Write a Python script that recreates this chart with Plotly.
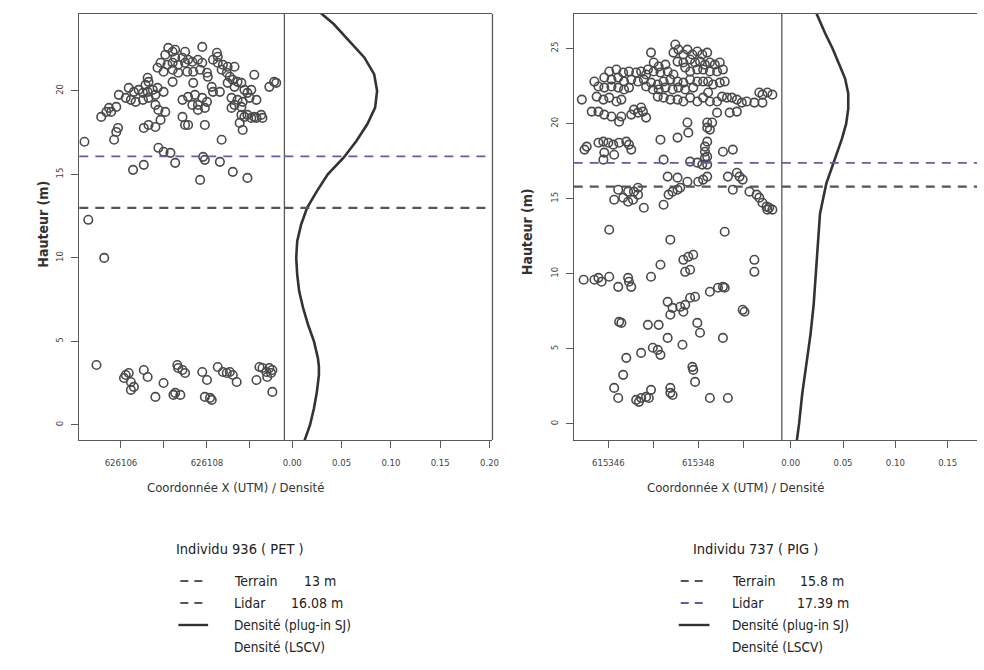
import plotly.graph_objects as go

W, H = 984, 670

# ---------------- data : individu 936 (PET) ----------------
x_936 = [626107.89, 626107.10, 626107.20, 626107.26, 626107.49, 626108.23, 626108.25, 626107.03, 626107.26, 626107.43,
         626107.56, 626106.92, 626107.08, 626107.20, 626107.33, 626107.49, 626107.66, 626107.79, 626107.89, 626108.14,
         626108.25, 626108.37, 626108.48, 626108.64, 626106.85, 626106.99, 626107.20, 626107.33, 626107.54, 626107.68,
         626107.84, 626108.00, 626108.02, 626108.34, 626108.46, 626108.53, 626108.60, 626108.71, 626108.80, 626109.10,
         626106.62, 626106.64, 626106.57, 626107.20, 626107.68, 626106.99, 626108.11, 626108.14, 626108.30, 626109.56,
         626109.45, 626109.61, 626108.48, 626108.64, 626108.87, 626109.03, 626108.94, 626106.18, 626106.30, 626106.41,
         626106.51, 626106.62, 626106.74, 626106.85, 626105.95, 626106.11, 626106.23, 626106.34, 626106.51, 626106.64,
         626106.80, 626107.43, 626107.56, 626107.72, 626107.89, 626108.00, 626107.79, 626107.66, 626107.95, 626107.79,
         626108.57, 626108.71, 626108.83, 626108.99, 626109.15, 626108.64, 626108.57, 626108.80, 626105.72, 626105.89,
         626105.66, 626105.54, 626106.80, 626106.87, 626107.03, 626107.43, 626108.80, 626108.94, 626109.10, 626109.26,
         626105.77, 626105.93, 626105.89, 626106.53, 626106.64, 626106.80, 626106.92, 626107.49, 626107.56, 626107.95,
         626108.76, 626108.87, 626109.03, 626109.15, 626109.29, 626108.83, 626105.15, 626105.84, 626108.34, 626106.87,
         626106.99, 626107.15, 626107.91, 626107.95, 626108.30, 626106.28, 626106.53, 626107.26, 626108.60, 626108.94,
         626107.84, 626105.24, 626105.61,
         626105.43, 626106.11, 626106.18, 626106.07, 626106.23, 626106.30, 626106.23, 626106.53, 626106.62, 626106.80,
         626106.99, 626107.31, 626107.33, 626107.43, 626107.49, 626107.26, 626107.38, 626107.22, 626107.89, 626108.00,
         626107.95, 626108.07, 626108.11, 626108.25, 626108.37, 626108.46, 626108.53, 626108.60, 626108.69, 626109.15,
         626109.22, 626109.29, 626109.38, 626109.45, 626109.49, 626109.40, 626109.52, 626109.52]
y_936 = [22.63, 22.57, 22.34, 22.46, 22.34, 22.28, 22.04, 22.16, 21.98, 21.98,
         21.86, 21.68, 21.56, 21.68, 21.56, 21.68, 21.74, 21.86, 21.68, 21.86,
         21.68, 21.56, 21.44, 21.44, 21.38, 21.14, 21.26, 21.08, 21.14, 21.14,
         21.26, 21.08, 20.84, 21.26, 21.08, 20.84, 20.66, 20.54, 20.48, 20.96,
         20.78, 20.54, 20.36, 20.54, 20.48, 19.94, 20.24, 19.94, 19.94, 20.54,
         20.24, 20.48, 20.48, 20.24, 20.06, 20.06, 19.88, 20.18, 19.94, 20.06,
         19.88, 19.94, 20.06, 20.18, 19.76, 19.58, 19.46, 19.34, 19.46, 19.58,
         19.76, 19.46, 19.64, 19.76, 19.58, 19.34, 19.16, 19.16, 18.98, 18.86,
         19.58, 19.46, 19.34, 19.58, 19.46, 19.16, 18.98, 19.04, 18.98, 19.04,
         18.74, 18.44, 19.16, 18.86, 18.74, 18.44, 18.56, 18.56, 18.44, 18.56,
         18.74, 17.78, 17.54, 17.78, 17.96, 17.84, 18.26, 17.96, 17.96, 17.96,
         18.08, 18.44, 18.38, 18.38, 18.38, 17.66, 16.95, 17.07, 17.07, 16.59,
         16.35, 16.29, 16.05, 15.87, 15.75, 15.27, 15.57, 15.69, 15.15, 14.79,
         14.67, 12.28, 10.00,
         3.59, 2.99, 3.11, 2.81, 2.57, 2.28, 2.10, 3.29, 2.87, 1.68,
         2.51, 3.59, 3.41, 3.29, 3.11, 1.92, 1.80, 1.80, 3.17, 2.69,
         1.68, 1.62, 1.50, 3.47, 3.17, 3.11, 3.17, 2.99, 2.57, 2.69,
         3.47, 3.41, 3.17, 3.41, 3.11, 2.87, 3.29, 1.98]

dens_h_936 = [-1.0, 0, 1, 2, 3, 3.5, 4, 5, 6, 7, 8, 9, 10, 11, 12, 13, 14, 15, 16, 17, 18, 19, 20, 21, 22, 23, 24, 24.6, 25.0]
dens_v_936 = [0.012, 0.018, 0.022, 0.025, 0.027, 0.027, 0.026, 0.022, 0.016, 0.011, 0.007, 0.005, 0.004, 0.005, 0.009,
              0.015, 0.025, 0.036, 0.052, 0.065, 0.076, 0.084, 0.086, 0.083, 0.073, 0.058, 0.042, 0.030, 0.022]

terrain_936 = 13.0
lidar_936 = 16.08

# ---------------- data : individu 737 (PIG) ----------------
x_737 = [615346.95, 615347.49, 615347.56, 615347.67, 615347.45, 615347.76, 615347.87, 615347.98, 615348.09, 615348.20,
         615347.54, 615347.67, 615347.82, 615347.93, 615348.04, 615348.15, 615348.26, 615348.37, 615348.48, 615347.01,
         615347.12, 615347.27, 615346.88, 615347.01, 615347.16, 615347.32, 615347.45, 615347.71, 615347.82, 615347.98,
         615348.11, 615348.26, 615348.42, 615348.55, 615346.02, 615346.18, 615346.33, 615346.46, 615346.62, 615346.73,
         615346.84, 615345.91, 615346.07, 615346.22, 615346.35, 615346.51, 615346.66, 615346.79, 615346.95, 615347.10,
         615347.23, 615347.38, 615347.54, 615347.67, 615347.82, 615347.98, 615348.11, 615345.69, 615345.78, 615345.91,
         615346.07, 615346.22, 615346.35, 615346.46, 615346.84, 615346.99, 615347.12, 615347.27, 615347.43, 615347.56,
         615347.71, 615347.89, 615348.22, 615348.33, 615348.48, 615348.59, 615345.41, 615345.74, 615345.89, 615346.02,
         615346.18, 615346.29, 615347.10, 615347.23, 615347.38, 615347.54, 615347.67, 615347.82, 615347.98, 615348.11,
         615348.22, 615348.26, 615348.42, 615348.53, 615348.64, 615348.75, 615348.86, 615348.97, 615349.08, 615349.36,
         615349.43, 615349.54, 615349.65, 615349.25, 615349.43, 615346.57, 615346.73, 615346.77, 615346.66, 615345.63,
         615345.78, 615345.91, 615346.07, 615346.29, 615348.42, 615348.70, 615348.86, 615346.24, 615346.84, 615346.51,
         615347.76, 615347.78, 615348.20, 615348.31, 615348.26, 615348.20, 615347.16, 615347.54, 615348.20, 615348.15,
         615345.52, 615345.78, 615345.89, 615346.00, 615346.11, 615346.24, 615346.40, 615346.46, 615346.51, 615345.47,
         615345.91, 615346.13, 615345.89, 615348.15, 615348.20, 615348.55, 615348.77, 615347.23, 615347.82, 615347.98,
         615348.09, 615348.15, 615348.20, 615348.86, 615348.92, 615348.99, 615348.66, 615347.32, 615347.54, 615347.76,
         615348.00, 615348.11, 615348.20, 615346.22, 615346.44, 615346.57, 615346.66, 615346.13, 615346.33, 615346.44,
         615346.55, 615346.66, 615346.79, 615347.23, 615347.34, 615347.43, 615347.54, 615347.60, 615348.77, 615349.14,
         615349.30, 615349.36, 615349.43, 615349.52, 615349.58, 615349.65, 615349.54, 615346.02, 615347.38, 615348.59,
         615345.45, 615345.69, 615345.78, 615345.85, 615346.02, 615346.22, 615346.44, 615346.46, 615346.51, 615346.95,
         615347.16, 615347.67, 615347.78, 615347.89, 615347.71, 615347.82, 615349.25, 615349.25, 615348.26, 615348.44,
         615348.55, 615348.59, 615347.32, 615347.43, 615347.60, 615347.71, 615347.82, 615347.93, 615348.99, 615349.03,
         615347.38, 615347.67, 615346.24, 615346.29, 615346.88, 615347.12, 615347.98, 615348.04, 615347.32, 615347.65,
         615348.55, 615346.40, 615346.73, 615346.99, 615347.10, 615347.16, 615347.87, 615347.89, 615347.93, 615346.33,
         615346.13, 615346.22, 615346.62, 615346.73, 615346.84, 615346.95, 615346.90, 615346.68, 615347.38, 615347.38,
         615347.43, 615348.26, 615348.66]
y_737 = [24.73, 25.27, 24.93, 24.60, 24.73, 24.93, 24.60, 24.80, 24.60, 24.73,
         24.13, 24.07, 24.27, 24.07, 24.13, 23.93, 24.07, 23.93, 24.07, 24.07,
         23.80, 23.93, 23.60, 23.47, 23.40, 23.47, 23.27, 23.73, 23.47, 23.60,
         23.60, 23.47, 23.47, 23.60, 23.47, 23.60, 23.40, 23.47, 23.40, 23.47,
         23.27, 23.07, 22.93, 23.07, 22.80, 22.93, 22.80, 22.93, 22.73, 22.60,
         22.80, 22.93, 22.80, 22.73, 22.93, 22.80, 22.80, 22.80, 22.47, 22.40,
         22.47, 22.40, 22.27, 22.40, 22.47, 22.27, 22.27, 22.40, 22.27, 22.40,
         22.27, 22.40, 22.80, 22.60, 22.73, 22.80, 21.60, 21.80, 21.60, 21.73,
         21.47, 21.60, 21.80, 21.73, 21.60, 21.60, 21.47, 21.73, 21.47, 21.73,
         22.07, 21.47, 21.47, 21.80, 21.73, 21.73, 21.60, 21.40, 21.47, 22.07,
         21.93, 22.07, 21.93, 21.40, 21.40, 20.93, 21.07, 20.80, 20.73, 20.80,
         20.80, 20.60, 20.47, 20.47, 20.73, 20.73, 20.80, 20.13, 20.40, 20.60,
         20.07, 19.40, 20.07, 20.07, 19.60, 19.73, 18.93, 19.07, 18.80, 18.47,
         18.47, 18.73, 18.80, 18.73, 18.60, 18.73, 18.80, 18.60, 18.27, 18.27,
         18.07, 17.93, 17.60, 18.13, 17.80, 18.13, 18.27, 17.60, 17.47, 17.40,
         17.27, 17.73, 17.27, 16.73, 16.47, 16.27, 16.47, 16.47, 16.40, 16.13,
         16.13, 16.27, 16.47, 15.60, 15.47, 15.47, 15.73, 14.93, 15.07, 14.80,
         14.93, 15.27, 14.40, 14.60, 15.27, 15.47, 15.60, 15.73, 15.60, 15.47,
         15.27, 15.07, 14.73, 14.47, 14.40, 14.27, 14.27, 12.93, 12.27, 12.80,
         9.60, 9.60, 9.73, 9.47, 9.80, 9.13, 9.73, 9.47, 9.13, 9.80,
         10.60, 10.93, 11.13, 11.27, 10.13, 10.27, 10.93, 10.13, 8.80, 9.07,
         9.13, 9.07, 8.13, 7.73, 7.80, 7.93, 8.40, 8.47, 7.60, 7.47,
         7.27, 7.47, 6.80, 6.73, 6.60, 6.60, 6.73, 6.07, 5.73, 5.27,
         5.73, 4.40, 4.73, 5.07, 4.93, 4.60, 3.80, 3.60, 2.80, 3.27,
         2.40, 1.73, 1.60, 1.73, 1.80, 2.27, 1.73, 1.47, 2.40, 2.07,
         1.93, 1.73, 1.73]

dens_h_737 = [-1.3, 0, 2, 4, 6, 8, 10, 12, 14, 16, 17, 18, 19, 20, 21, 22, 23, 24, 25, 26, 27.3, 27.6]
dens_v_737 = [0.0055, 0.008, 0.011, 0.015, 0.019, 0.022, 0.024, 0.026, 0.028, 0.034, 0.039, 0.044, 0.049, 0.053,
              0.055, 0.055, 0.052, 0.046, 0.040, 0.033, 0.025, 0.023]

terrain_737 = 15.8
lidar_737 = 17.39

# tick labels
xt_936 = [626106, 626107, 626108, 626109]
xl_936 = ["626106", "", "626108", ""]
xt_737 = [615346, 615347, 615348, 615349]
xl_737 = ["615346", "", "615348", ""]
dt_936 = [0.00, 0.05, 0.10, 0.15, 0.20]
dt_737 = [0.00, 0.05, 0.10, 0.15]

# ---------------- styling ----------------
FONT = "Liberation Sans Narrow, Arial Narrow, DejaVu Sans Condensed, Liberation Sans, Arial, sans-serif"
AX = "#5a5a5a"
PT = "#4a4a4a"
BLUE = "#5b5fae"
YDOM = [1 - 440 / H, 1 - 14 / H]
LS = [78 / W, 285 / W]
LD = [285 / W, 495 / W]
RS = [577 / W, 787 / W]
RD = [787 / W, 1.0]

fig = go.Figure()

def pts(x, y, xa, ya):
    fig.add_trace(go.Scatter(x=x, y=y, mode="markers", xaxis=xa, yaxis=ya,
                             marker=dict(symbol="circle-open", size=8.5, color=PT, line=dict(width=1.6, color=PT)),
                             hoverinfo="skip", showlegend=False))

def dens(h, v, xa, ya):
    fig.add_trace(go.Scatter(x=v, y=h, mode="lines", xaxis=xa, yaxis=ya,
                             line=dict(color="#333333", width=2.6), hoverinfo="skip", showlegend=False))

pts(x_936, y_936, "x", "y")
dens(dens_h_936, dens_v_936, "x2", "y")
pts(x_737, y_737, "x3", "y3")
dens(dens_h_737, dens_v_737, "x4", "y3")

def xax(dom, rng, tv, tt, anchor):
    return dict(domain=dom, range=rng, anchor=anchor, tickvals=tv, ticktext=tt, showgrid=False, zeroline=False,
                showline=True, mirror=True, linecolor=AX, linewidth=1.3, ticks="outside", ticklen=7,
                tickcolor=AX, tickwidth=1.2, ticklabelstandoff=6,
                tickfont=dict(family=FONT, size=9.5, color="#444"))

def yax(rng, tv, anchor):
    return dict(domain=YDOM, range=rng, anchor=anchor, tickvals=tv,
                showgrid=False, zeroline=False, showline=True, linecolor=AX, linewidth=1.3,
                ticks="outside", ticklen=7, tickcolor=AX, tickwidth=1.2, tickangle=-90, ticklabelstandoff=4,
                tickfont=dict(family=FONT, size=9.5, color="#444"))

fig.update_layout(
    width=W, height=H, margin=dict(l=0, r=0, t=0, b=0),
    paper_bgcolor="white", plot_bgcolor="white", showlegend=False,
    xaxis=xax(LS, [626105.03, 626109.8], xt_936, xl_936, "y"),
    xaxis2=xax(LD, [-0.008, 0.203], dt_936, [f"{v:.2f}" for v in dt_936], "y"),
    xaxis3=xax(RS, [615345.23, 615349.86], xt_737, xl_737, "y3"),
    xaxis4=xax(RD, [-0.0085, 0.178], dt_737, [f"{v:.2f}" for v in dt_737], "y3"),
    yaxis=yax([-0.9, 24.6], [0, 5, 10, 15, 20], "x"),
    yaxis3=yax([-1.07, 27.3], [0, 5, 10, 15, 20, 25], "x3"),
)

shapes = []
# vertical separators / borders
for xr, yr in [("x", "y"), ("x2", "y"), ("x3", "y3")]:
    shapes.append(dict(type="line", xref=f"{xr} domain", yref=f"{yr} domain", x0=1, x1=1, y0=0, y1=1,
                       line=dict(color=AX, width=1.3)))

def hline(xr, yr, val, color, width):
    shapes.append(dict(type="line", xref=f"{xr} domain", yref=yr, x0=0, x1=1, y0=val, y1=val,
                       line=dict(color=color, width=width, dash="9px,7px")))

for xr in ["x", "x2"]:
    hline(xr, "y", terrain_936, "#555555", 2.2)
    hline(xr, "y", lidar_936, BLUE, 1.8)
for xr in ["x3", "x4"]:
    hline(xr, "y3", terrain_737, "#555555", 2.2)
    hline(xr, "y3", lidar_737, BLUE, 1.8)

ann = []
def text(px, py, s, size, anchor="center", angle=0, color="#222", bold=False):
    ann.append(dict(x=px / W, y=1 - py / H, xref="paper", yref="paper", text=f"<b>{s}</b>" if bold else s,
                    showarrow=False, xanchor=anchor, yanchor="middle", textangle=angle,
                    font=dict(family=FONT, size=size, color=color)))

def seg(x0, x1, py, color, width, dash=None):
    ln = dict(color=color, width=width)
    if dash:
        ln["dash"] = dash
    shapes.append(dict(type="line", xref="paper", yref="paper", x0=x0 / W, x1=x1 / W,
                       y0=1 - py / H, y1=1 - py / H, line=ln))

# axis titles
text(41, 224, "Hauteur (m)", 14, angle=-90, color="#333", bold=True)
text(530, 232, "Hauteur (m)", 14, angle=-90, color="#333", bold=True)
text(236, 487, "Coordonnée X (UTM) / Densité", 13, color="#333")
text(740, 487, "Coordonnée X (UTM) / Densité", 13, color="#333")

# legend blocks
legs = [
    dict(cx=240, title="Individu 936 ( PET )", sx0=180, sx1=206, tx=232,
         rows=[("Terrain", "13 m", 303, "#555555"), ("Lidar", "16.08 m", 290, "#555555")]),
    dict(cx=760, title="Individu 737 ( PIG )", sx0=685, sx1=712, tx=735,
         rows=[("Terrain", "15.8 m", 803, "#555555"), ("Lidar", "17.39 m", 800, BLUE)]),
]
for L in legs:
    text(L["cx"], 549, L["title"], 14.5)
    for i, (lab, val, vx, col) in enumerate(L["rows"]):
        py = 581 + 22 * i
        seg(L["sx0"], L["sx1"], py, col, 2, dash="8px,6px")
        text(L["tx"], py, lab, 14, anchor="left")
        text(vx, py, val, 14, anchor="left")
    seg(L["sx0"] - 2, L["sx1"] + 2, 625, "#333333", 2.4)
    text(L["tx"], 625, "Densité (plug-in SJ)", 13.5, anchor="left")
    text(L["tx"], 647, "Densité (LSCV)", 13.5, anchor="left")

fig.update_layout(shapes=shapes, annotations=ann)
fig.write_html("out.html")
